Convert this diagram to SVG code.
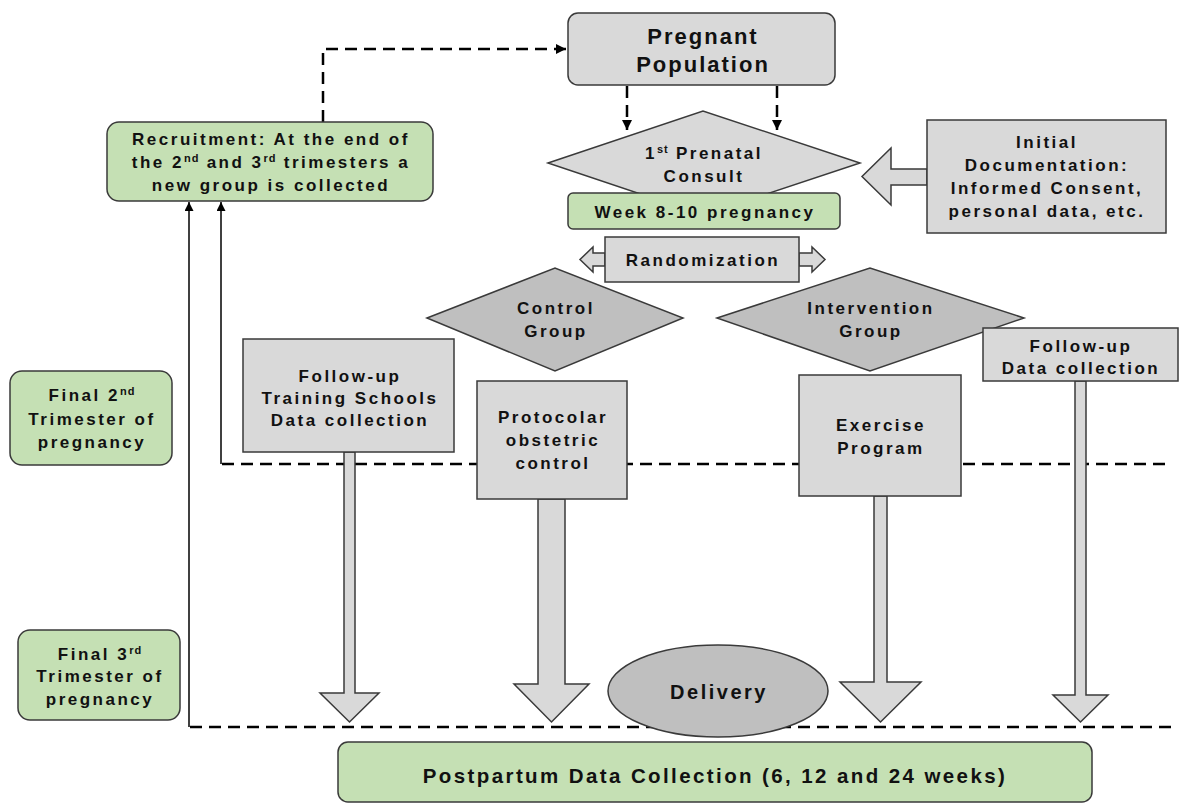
<svg xmlns="http://www.w3.org/2000/svg" width="1179" height="803" viewBox="0 0 1179 803">
<defs>
<style>
text{font-family:"Liberation Sans",Arial,sans-serif;font-weight:bold;font-size:17px;letter-spacing:2.5px;fill:#111;text-anchor:middle}
.sup{font-size:11px;letter-spacing:1px}
.gray{fill:#d9d9d9;stroke:#3a3a3a;stroke-width:1.5}
.dark{fill:#bfbfbf;stroke:#3a3a3a;stroke-width:1.5}
.green{fill:#c5e0b4;stroke:#3a3a3a;stroke-width:1.5}
.dash{fill:none;stroke:#000;stroke-width:2.5;stroke-dasharray:12 7}
.solid{fill:none;stroke:#000;stroke-width:1.5}
.blk{fill:#d9d9d9;stroke:#3a3a3a;stroke-width:1.5;stroke-linejoin:miter}
</style>
<marker id="ah" viewBox="0 0 10 10" refX="10" refY="5" markerWidth="4" markerHeight="4" orient="auto" markerUnits="strokeWidth">
<path d="M0,0 L10,5 L0,10 z" fill="#000"/>
</marker>
<marker id="ah2" viewBox="0 0 10 10" refX="10" refY="5" markerWidth="6" markerHeight="6" orient="auto" markerUnits="strokeWidth">
<path d="M0,0 L10,5 L0,10 z" fill="#000"/>
</marker>
</defs>

<g id="connectors">
<path class="dash" d="M323,122 V49 H566" marker-end="url(#ah)"/>
<path class="dash" d="M627,86 V130" marker-end="url(#ah)"/>
<path class="dash" d="M777,86 V130" marker-end="url(#ah)"/>
<path class="dash" d="M222,464 H1172"/>
<path class="dash" d="M190,727 H1172"/>
<path class="solid" d="M189,727 V202" marker-end="url(#ah2)"/>
<path class="solid" d="M221,464 V202" marker-end="url(#ah2)"/>
<polygon class="blk" points="927,169 891,169 891,148 862,176.5 891,205 891,185 927,185"/>
<polygon class="blk" points="605,253 593,253 593,247 580,259.5 593,272 593,266 605,266"/>
<polygon class="blk" points="799,253 812,253 812,247 825,259.5 812,272 812,266 799,266"/>
<polygon class="blk" points="344,452 355,452 355,693 379,693 349.5,722 320,693 344,693"/>
<polygon class="blk" points="538,499 565,499 565,684 589,684 551.5,722 514,684 538,684"/>
<polygon class="blk" points="874,496 887,496 887,682 921,682 880.5,722 840,682 874,682"/>
<polygon class="blk" points="1075,381 1086,381 1086,695 1108,695 1080.5,722 1053,695 1075,695"/>
</g>

<g id="pregnant-population">
<rect class="gray" x="568" y="13" width="267" height="72" rx="10"/>
<text x="703" y="44" style="font-size:22px;letter-spacing:2px">Pregnant</text>
<text x="703" y="72" style="font-size:22px;letter-spacing:2px">Population</text>
</g>

<g id="prenatal-consult">
<polygon class="gray" points="548,163 703,111 860,163 703,215"/>
<text x="704" y="159">1<tspan class="sup" dy="-6">st</tspan><tspan dy="6"> Prenatal</tspan></text>
<text x="704" y="182">Consult</text>
</g>

<g id="week">
<rect class="green" x="568" y="193" width="272" height="36" rx="5"/>
<text x="705" y="218">Week 8-10 pregnancy</text>
</g>

<g id="initial-documentation">
<rect class="gray" x="927" y="120" width="239" height="113"/>
<text x="1047" y="148">Initial</text>
<text x="1047" y="171">Documentation:</text>
<text x="1047" y="194">Informed Consent,</text>
<text x="1047" y="217">personal data, etc.</text>
</g>

<g id="randomization">
<rect class="gray" x="605" y="237" width="194" height="45"/>
<text x="703" y="266">Randomization</text>
</g>

<g id="control-group">
<polygon class="dark" points="427,318 555,268 683,318 555,371"/>
<text x="556" y="314">Control</text>
<text x="556" y="337">Group</text>
</g>

<g id="intervention-group">
<polygon class="dark" points="717,318 870,268 1024,318 870,371"/>
<text x="871" y="314">Intervention</text>
<text x="871" y="337">Group</text>
</g>

<g id="recruitment">
<rect class="green" x="107" y="122" width="326" height="79" rx="12"/>
<text x="271" y="145">Recruitment: At the end of</text>
<text x="271" y="168">the 2<tspan class="sup" dy="-6">nd</tspan><tspan dy="6"> and 3</tspan><tspan class="sup" dy="-6">rd</tspan><tspan dy="6"> trimesters a</tspan></text>
<text x="271" y="191">new group is collected</text>
</g>

<g id="final-2nd">
<rect class="green" x="10" y="371" width="162" height="94" rx="12"/>
<text x="92" y="401">Final 2<tspan class="sup" dy="-6">nd</tspan></text>
<text x="92" y="425">Trimester of</text>
<text x="92" y="448">pregnancy</text>
</g>

<g id="final-3rd">
<rect class="green" x="18" y="630" width="162" height="90" rx="12"/>
<text x="100" y="660">Final 3<tspan class="sup" dy="-6">rd</tspan></text>
<text x="100" y="682">Trimester of</text>
<text x="100" y="705">pregnancy</text>
</g>

<g id="followup-training">
<rect class="gray" x="243" y="339" width="211" height="113"/>
<text x="350" y="382">Follow-up</text>
<text x="350" y="404">Training Schools</text>
<text x="350" y="426">Data collection</text>
</g>

<g id="protocolar">
<rect class="gray" x="477" y="381" width="150" height="118"/>
<text x="553" y="423">Protocolar</text>
<text x="553" y="446">obstetric</text>
<text x="553" y="469">control</text>
</g>

<g id="exercise">
<rect class="gray" x="799" y="375" width="162" height="121"/>
<text x="881" y="431">Exercise</text>
<text x="881" y="454">Program</text>
</g>

<g id="followup-data">
<rect class="gray" x="983" y="328" width="195" height="53"/>
<text x="1081" y="352">Follow-up</text>
<text x="1081" y="374">Data collection</text>
</g>

<g id="delivery">
<ellipse class="dark" cx="718" cy="691" rx="110" ry="46"/>
<text x="719" y="699" style="font-size:20px">Delivery</text>
</g>

<g id="postpartum">
<rect class="green" x="338" y="742" width="754" height="60" rx="10"/>
<text x="715" y="783" style="font-size:20.5px;letter-spacing:2.4px">Postpartum Data Collection (6, 12 and 24 weeks)</text>
</g>
</svg>
